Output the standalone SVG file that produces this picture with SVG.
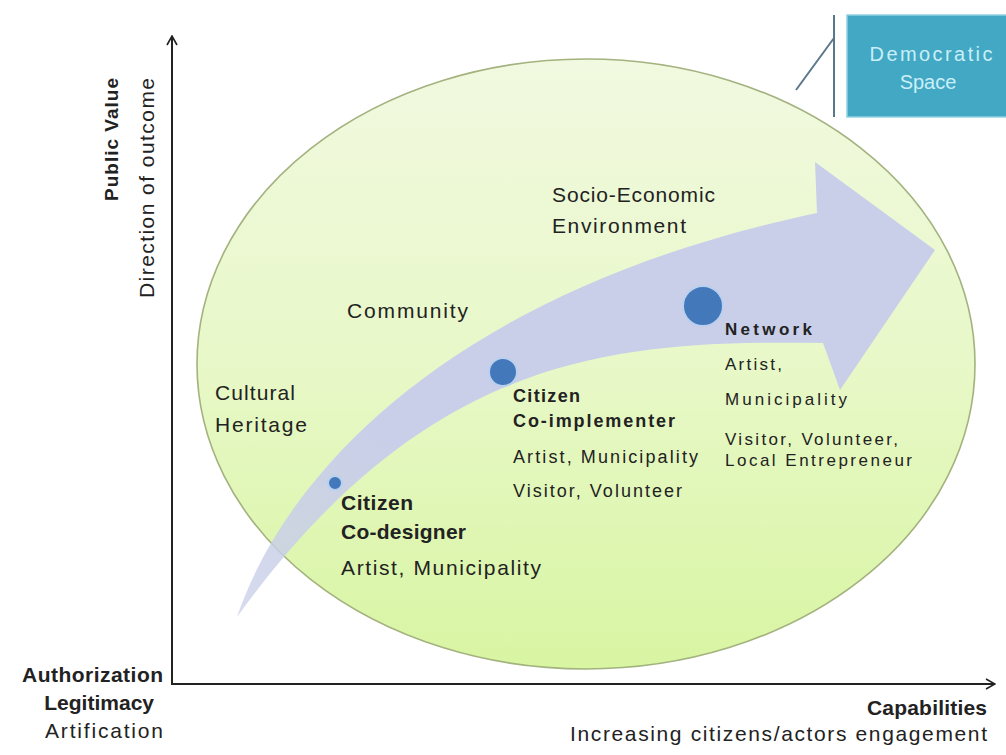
<svg xmlns="http://www.w3.org/2000/svg" width="1006" height="755" viewBox="0 0 1006 755">
  <defs>
    <linearGradient id="ellipseFill" x1="0" y1="0" x2="0" y2="1">
      <stop offset="0" stop-color="#f1f9e0"/>
      <stop offset="0.5" stop-color="#e8f8c8"/>
      <stop offset="1" stop-color="#d8f5a2"/>
    </linearGradient>
    <linearGradient id="arrowFill" x1="0" y1="1" x2="1" y2="0">
      <stop offset="0" stop-color="#c9cfe8" stop-opacity="0.75"/>
      <stop offset="0.3" stop-color="#c9cfe8"/>
      <stop offset="1" stop-color="#c9cfe8"/>
    </linearGradient>
    <marker id="openHead" viewBox="0 0 12 12" refX="11" refY="6" markerWidth="12" markerHeight="12" markerUnits="userSpaceOnUse" orient="auto">
      <path d="M2,1 L11,6 L2,11" fill="none" stroke="#222" stroke-width="1.6"/>
    </marker>
    <style>
      text { font-family: "Liberation Sans", Arial, sans-serif; fill: #222; }
      .b { font-weight: bold; }
      .s21 { font-size: 21px; }
      .s18 { font-size: 18px; }
      .s17 { font-size: 17px; }
      .axis { stroke: #222; stroke-width: 2; fill: none; }
      .dot { fill: #4378bb; stroke: #b9d0ee; stroke-width: 2; }
      .callout { stroke: #5b7889; stroke-width: 2; fill: none; }
    </style>
  </defs>

  <rect width="1006" height="755" fill="#ffffff"/>

  <!-- outer field -->
  <g id="democratic-space-field">
    <ellipse cx="586" cy="364" rx="389" ry="305" fill="url(#ellipseFill)" stroke="#a3b27e" stroke-width="1.6"/>
  </g>

  <!-- curved progression arrow -->
  <g id="progression-arrow">
    <path d="M237,617 C285,475 450,290 817,213 L815,162 L935,250 L840,390 L823,343 C620,340 430,350 237,617 Z" fill="url(#arrowFill)"/>
  </g>

  <!-- axes -->
  <g id="connectors">
    <line class="axis" x1="172" y1="685" x2="172" y2="36" marker-end="url(#openHead)"/>
    <line class="axis" x1="171" y1="684" x2="995" y2="684" marker-end="url(#openHead)"/>
    <line class="callout" x1="834" y1="15" x2="834" y2="117"/>
    <line class="callout" x1="834" y1="38" x2="796" y2="90"/>
  </g>

  <g id="democratic-space">
    <rect x="847" y="15" width="162" height="102" fill="#43a8c4" stroke="#8fd2e2" stroke-width="1.5"/>
    <text x="931" y="61" font-size="20" text-anchor="middle" style="fill:#c9eff8" textLength="123" lengthAdjust="spacing">Democratic</text>
    <text x="928" y="89" font-size="20" text-anchor="middle" style="fill:#c9eff8">Space</text>
  </g>

  <g id="y-axis-label">
    <text class="b" font-size="19" transform="translate(118,78) rotate(-90)" text-anchor="end" textLength="123" lengthAdjust="spacing">Public Value</text>
    <text class="s21" transform="translate(154,78) rotate(-90)" text-anchor="end" textLength="220" lengthAdjust="spacing">Direction of outcome</text>
  </g>

  <g id="origin-label">
    <text class="b s21" x="22" y="682" textLength="141" lengthAdjust="spacing">Authorization</text>
    <text class="b s21" x="154" y="710" text-anchor="end">Legitimacy</text>
    <text class="s21" x="45" y="738" textLength="118" lengthAdjust="spacing">Artification</text>
  </g>

  <g id="x-axis-label">
    <text class="b s21" x="987" y="715" text-anchor="end" textLength="120" lengthAdjust="spacing">Capabilities</text>
    <text class="s21" x="987" y="741" text-anchor="end" textLength="417" lengthAdjust="spacing">Increasing citizens/actors engagement</text>
  </g>

  <g id="socio-economic-environment">
    <text class="s21" x="552" y="202" textLength="163" lengthAdjust="spacing">Socio-Economic</text>
    <text class="s21" x="552" y="233" textLength="134" lengthAdjust="spacing">Environment</text>
  </g>

  <g id="community">
    <text class="s21" x="347" y="318" textLength="121" lengthAdjust="spacing">Community</text>
  </g>

  <g id="cultural-heritage">
    <text class="s21" x="215" y="400" textLength="80" lengthAdjust="spacing">Cultural</text>
    <text class="s21" x="215" y="432" textLength="92" lengthAdjust="spacing">Heritage</text>
  </g>

  <g id="citizen-co-designer">
    <circle class="dot" cx="335" cy="483" r="7"/>
    <text class="b s21" x="341" y="510" textLength="72" lengthAdjust="spacing">Citizen</text>
    <text class="b s21" x="341" y="539" textLength="125" lengthAdjust="spacing">Co-designer</text>
    <text class="s21" x="341" y="575" textLength="200" lengthAdjust="spacing">Artist, Municipality</text>
  </g>

  <g id="citizen-co-implementer">
    <circle class="dot" cx="503" cy="372" r="14"/>
    <text class="b s18" x="513" y="402" textLength="67" lengthAdjust="spacing">Citizen</text>
    <text class="b s18" x="513" y="427" textLength="162" lengthAdjust="spacing">Co-implementer</text>
    <text class="s18" x="513" y="463" textLength="185" lengthAdjust="spacing">Artist, Municipality</text>
    <text class="s18" x="513" y="497" textLength="169" lengthAdjust="spacing">Visitor, Volunteer</text>
  </g>

  <g id="network">
    <circle class="dot" cx="703" cy="306" r="20"/>
    <text class="b s17" x="725" y="335" textLength="87" lengthAdjust="spacing">Network</text>
    <text class="s17" x="725" y="370" textLength="57" lengthAdjust="spacing">Artist,</text>
    <text class="s17" x="725" y="405" textLength="122" lengthAdjust="spacing">Municipality</text>
    <text class="s17" x="725" y="445" textLength="173" lengthAdjust="spacing">Visitor, Volunteer,</text>
    <text class="s17" x="725" y="466" textLength="187" lengthAdjust="spacing">Local Entrepreneur</text>
  </g>
</svg>
